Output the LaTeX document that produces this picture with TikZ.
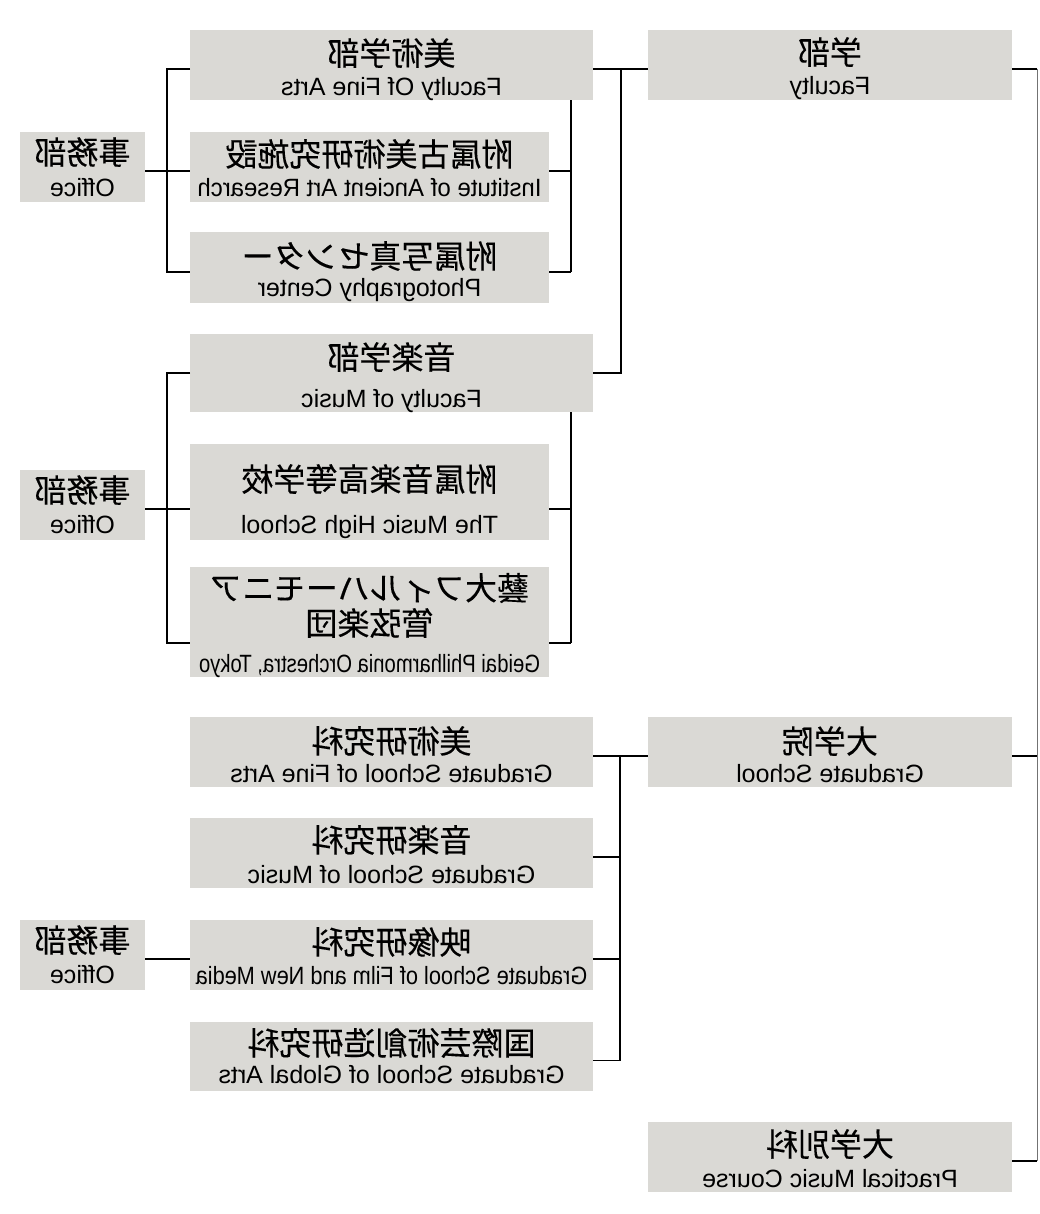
\documentclass[tikz,border=0pt]{standalone}
\usepackage{fontspec}
\usepackage{graphicx}
\newfontfamily\jpfont[FakeBold=0.25]{Noto Sans CJK JP}
\newfontfamily\enfont{Liberation Sans}
\definecolor{boxgray}{RGB}{218,217,213}
\tikzset{
  orgbox/.style={fill=boxgray, draw=none, inner sep=0pt, outer sep=0pt, anchor=north west},
  jptext/.style={inner sep=0pt, font=\jpfont\fontsize{32}{36}\selectfont},
  entext/.style={inner sep=0pt, anchor=base, font=\enfont\fontsize{25}{28}\selectfont},
  conn/.style={line width=1.6pt, black},
  thinconn/.style={line width=1pt, black!55},
}
\newcommand\mkbox[9]{%
  \node[orgbox, minimum width=#4pt, minimum height=#5pt] (#1) at (#2,#3) {};
  \node[jptext] (#1-j) at ([yshift=-#6pt]#1.north) {\reflectbox{#8}};
  \node[entext] (#1-e) at ([yshift=#7pt]#1.south) {\reflectbox{#9}};
}
\begin{document}
\begin{tikzpicture}[x=1pt, y=-1pt]
\useasboundingbox (0,0) rectangle (1040,1214);
\fill[white] (0,0) rectangle (1040,1214);

% boxes
\mkbox{fa}{190}{30}{403}{70}{23}{4}{美術学部}{Faculty Of Fine Arts}
\mkbox{koh}{190}{132}{359}{70}{22}{5}{附属古美術研究施設}{\scalebox{0.96}[1]{Institute of Ancient Art Research}}
\mkbox{photo}{190}{232}{359}{71}{24}{6}{附属写真センター}{Photography Center}
\mkbox{music}{190}{334}{403}{78}{23}{5}{音楽学部}{Faculty of Music}
\mkbox{hs}{190}{444}{359}{96}{35}{7}{附属音楽高等学校}{The Music High School}
\node[orgbox, minimum width=359pt, minimum height=110pt] (orch) at (190,567) {};
\node[jptext] (orch-j1) at ([yshift=-21pt]orch.north) {\reflectbox{藝大フィルハーモニア}};
\node[jptext] (orch-j2) at ([yshift=-56pt]orch.north) {\reflectbox{管弦楽団}};
\node[entext] (orch-e) at ([yshift=5pt]orch.south) {\reflectbox{\scalebox{0.81}[1]{Geidai Philharmonia Orchestra, Tokyo}}};
\mkbox{gfa}{190}{717}{403}{70}{24}{5}{美術研究科}{Graduate School of Fine Arts}
\mkbox{gm}{190}{818}{403}{70}{22}{5}{音楽研究科}{Graduate School of Music}
\mkbox{gf}{190}{920}{403}{70}{22}{6}{映像研究科}{\scalebox{0.87}[1]{Graduate School of Film and New Media}}
\mkbox{gg}{190}{1022}{403}{69}{21}{8}{国際芸術創造研究科}{Graduate School of Global Arts}
\mkbox{off1}{20}{132}{125}{70}{20}{5}{事務部}{Office}
\mkbox{off2}{20}{470}{125}{70}{20}{7}{事務部}{Office}
\mkbox{off3}{20}{920}{125}{70}{20}{7}{事務部}{Office}
\mkbox{fac}{648}{30}{364}{70}{22}{5}{学部}{Faculty}
\mkbox{gs}{648}{717}{364}{70}{24}{5}{大学院}{Graduate School}
\mkbox{sp}{648}{1122}{364}{70}{22}{5}{大学別科}{Practical Music Course}

% named coordinates
\coordinate (busA) at (621,69);
\coordinate (busB) at (620,756);
\coordinate (rbus) at (1037,69);
\coordinate (rbusEnd) at (1037,1161);
\coordinate (y509) at (0,509);
\coordinate (y643) at (0,643);

% group 1 (fine arts)
\draw[conn] ([yshift=-4pt]fa.west) -- ++(-23,0) |- ([yshift=-4.5pt]photo.west);
\draw[conn] ([yshift=-4pt]off1.east) -- ([yshift=-4pt]koh.west);
\draw[conn] ([yshift=-4pt]koh.east) -- ++(22,0);
\draw[conn] ([yshift=-4.5pt]photo.east) -- ++(22,0) coordinate (r1);
\draw[conn] (r1) -- (r1 |- fa.south);

% faculties to 学部
\draw[conn] ([yshift=-4pt]fa.east) -- ([yshift=-4pt]fac.west);
\draw[conn] (music.east) -| (busA);

% right trunk
\draw[conn] ([yshift=-4pt]fac.east) -- (rbus);
\draw[thinconn] (rbus) -- (rbusEnd);
\draw[conn] ([yshift=-4pt]gs.east) -- ++(25,0);
\draw[conn] ([yshift=-4pt]sp.east) -- (rbusEnd);

% group 2 (music)
\draw[conn] (music.west) -- ++(-23,0) |- (orch.west |- y643);
\draw[conn] (off2.east |- y509) -- (hs.west |- y509);
\draw[conn] (hs.east |- y509) -- ++(22,0);
\draw[conn] (orch.east |- y643) -- ++(22,0) coordinate (r2);
\draw[conn] (r2) -- (r2 |- music.south);

% group 3 (graduate)
\draw[conn] ([yshift=-4pt]gfa.east) -- ([yshift=-4pt]gs.west);
\draw[conn] ([yshift=-4pt]gg.east) -| (busB);
\draw[conn] ([yshift=-4pt]gm.east) -- ++(27,0);
\draw[conn] ([yshift=-4pt]gf.east) -- ++(27,0);
\draw[conn] ([yshift=-4pt]off3.east) -- ([yshift=-4pt]gf.west);
\end{tikzpicture}
\end{document}
